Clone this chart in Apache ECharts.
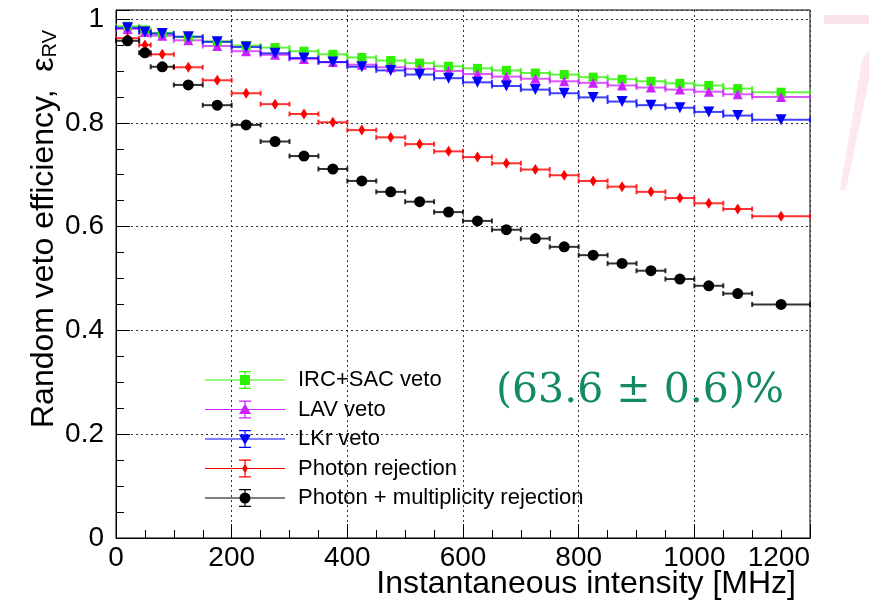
<!DOCTYPE html>
<html>
<head>
<meta charset="utf-8">
<script src="https://cdn.jsdelivr.net/npm/echarts@6/dist/echarts.min.js"></script>
<style>
  html, body { margin: 0; padding: 0; background: #fff; }
  #chart { width: 869px; height: 602px; }
</style>
</head>
<body>
<div id="chart"></div>
<script>
// intensity bins [MHz], markers sit at the bin centre
const binLo = [0, 40, 60, 100, 150, 200, 250, 300, 350, 400, 450, 500, 550, 600, 650, 700, 750, 800, 850, 900, 950, 1000, 1050, 1100];
const binHi = [40, 60, 100, 150, 200, 250, 300, 350, 400, 450, 500, 550, 600, 650, 700, 750, 800, 850, 900, 950, 1000, 1050, 1100, 1200];

// random veto efficiency per bin
const ircSac = [0.986, 0.979, 0.973, 0.965, 0.957, 0.949, 0.945, 0.938, 0.932, 0.926, 0.920, 0.915, 0.909, 0.905, 0.901, 0.896, 0.893, 0.888, 0.884, 0.880, 0.876, 0.872, 0.866, 0.859];
const lav = [0.981, 0.975, 0.968, 0.959, 0.948, 0.938, 0.931, 0.923, 0.917, 0.912, 0.907, 0.904, 0.900, 0.894, 0.889, 0.885, 0.880, 0.877, 0.872, 0.868, 0.864, 0.860, 0.855, 0.850];
const lkr = [0.983, 0.975, 0.972, 0.966, 0.956, 0.946, 0.934, 0.925, 0.917, 0.908, 0.901, 0.893, 0.886, 0.878, 0.871, 0.864, 0.857, 0.849, 0.841, 0.834, 0.829, 0.821, 0.814, 0.806];
const photon = [0.963, 0.950, 0.932, 0.907, 0.882, 0.857, 0.836, 0.817, 0.801, 0.786, 0.772, 0.759, 0.745, 0.734, 0.722, 0.710, 0.699, 0.688, 0.677, 0.667, 0.655, 0.645, 0.634, 0.620];
const photonMult = [0.958, 0.935, 0.908, 0.873, 0.834, 0.796, 0.764, 0.736, 0.711, 0.688, 0.667, 0.648, 0.628, 0.611, 0.594, 0.577, 0.561, 0.545, 0.529, 0.515, 0.499, 0.486, 0.471, 0.450];

const seriesNames = ["IRC+SAC veto", "LAV veto", "LKr veto", "Photon rejection", "Photon + multiplicity rejection"];
const resultLabel = "(63.6 \u00b1 0.6)%";

const FONT = "Liberation Sans, Arial, sans-serif";

// legend icon = ROOT style: horizontal line + vertical error bar with caps + marker
// all subpaths clockwise so the nonzero fill doesn't punch holes
const markerPaths = {
	square: "M35 4 H45 V14 H35 Z",
	triUp: "M40 3 L46 13.5 L34 13.5 Z",
	triDown: "M34 4.5 L46 4.5 L40 15 Z",
	diamond: "M40 4 L42.8 9 L40 14 L37.2 9 Z",
	circle: "M45.5 9 A5.5 5.5 0 1 1 34.5 9 A5.5 5.5 0 1 1 45.5 9 Z",
};
const legendIcon = (m) =>
	"path://M0 8.4 H80 V9.6 H0 Z M39.4 0 H40.6 V18 H39.4 Z M34 0 H46 V1.2 H34 Z M34 16.8 H46 V18 H34 Z " +
	markerPaths[m];

// horizontal error bars with small end caps
function errorBars(name, color, vals, opacity) {
	return {
		type: "custom",
		name: name + " err",
		silent: true,
		data: vals.map((v, i) => [binLo[i], binHi[i], v]),
		encode: { x: [0, 1], y: 2 },
		renderItem: (params, api) => {
			const a = api.coord([api.value(0), api.value(2)]);
			const b = api.coord([api.value(1), api.value(2)]);
			const cap = 2.5;
			const style = { stroke: color, lineWidth: 2, opacity: opacity };
			return {
				type: "group",
				children: [
					{ type: "line", shape: { x1: a[0], y1: a[1], x2: b[0], y2: b[1] }, style: style },
					{ type: "line", shape: { x1: a[0], y1: a[1] - cap, x2: a[0], y2: a[1] + cap }, style: style },
					{ type: "line", shape: { x1: b[0], y1: b[1] - cap, x2: b[0], y2: b[1] + cap }, style: style },
				],
			};
		},
	};
}

function markers(name, color, vals, symbol, size, rotate) {
	return {
		type: "scatter",
		name: name,
		data: vals.map((v, i) => [(binLo[i] + binHi[i]) / 2, v]),
		symbol: symbol,
		symbolSize: size,
		symbolRotate: rotate || 0,
		itemStyle: { color: color, opacity: 1 },
		emphasis: { disabled: true },
	};
}

const colors = ["#2ef000", "#cc22ff", "#0000ff", "#ff0000", "#000000"];

const chart = echarts.init(document.getElementById("chart"), null, { renderer: "canvas" });

chart.setOption({
	animation: false,
	backgroundColor: "#fff",
	grid: {
		left: 116,
		right: 59,
		top: 10,
		bottom: 64,
		show: true,
		borderColor: "#000",
		borderWidth: 1,
		backgroundColor: "transparent",
	},
	xAxis: {
		type: "value",
		min: 0,
		max: 1200,
		interval: 200,
		axisLine: { show: true, onZero: false, lineStyle: { color: "#000", width: 1 } },
		axisTick: { show: true, inside: true, length: 14, lineStyle: { color: "#000", width: 1 } },
		minorTick: { show: true, splitNumber: 4, length: 8, lineStyle: { color: "#000", width: 1 } },
		axisLabel: {
			color: "#000",
			fontSize: 28,
			fontFamily: FONT,
			margin: 6,
			alignMaxLabel: "right",
			formatter: (v) => String(v),
		},
		splitLine: { show: true, lineStyle: { color: "#333", type: [2, 3], width: 1 } },
	},
	yAxis: {
		type: "value",
		min: 0,
		max: 1.0174,
		interval: 0.2,
		axisLine: { show: true, onZero: false, lineStyle: { color: "#000", width: 1 } },
		axisTick: { show: true, inside: true, length: 14, lineStyle: { color: "#000", width: 1 } },
		minorTick: { show: true, splitNumber: 4, length: 8, lineStyle: { color: "#000", width: 1 } },
		axisLabel: {
			color: "#000",
			fontSize: 28,
			fontFamily: FONT,
			margin: 12,
			showMaxLabel: false,
			formatter: (v) => String(+v.toFixed(1)),
		},
		splitLine: { show: true, lineStyle: { color: "#333", type: [2, 3], width: 1 } },
	},
	legend: {
		orient: "vertical",
		left: 200,
		top: 364,
		itemWidth: 80,
		itemHeight: 18,
		itemGap: 7.5,
		selectedMode: false,
		symbolRotate: 0,
		textStyle: { color: "#000", fontSize: 22, fontFamily: FONT, padding: [0, 0, 0, 8] },
		data: [
			{ name: seriesNames[0], icon: legendIcon("square") },
			{ name: seriesNames[1], icon: legendIcon("triUp") },
			{ name: seriesNames[2], icon: legendIcon("triDown") },
			{ name: seriesNames[3], icon: legendIcon("diamond") },
			{ name: seriesNames[4], icon: legendIcon("circle") },
		],
	},
	series: [
		errorBars(seriesNames[0], colors[0], ircSac, 0.75),
		markers(seriesNames[0], colors[0], ircSac, "rect", 9),
		errorBars(seriesNames[1], colors[1], lav, 0.75),
		markers(seriesNames[1], colors[1], lav, "triangle", 10),
		errorBars(seriesNames[2], colors[2], lkr, 0.75),
		markers(seriesNames[2], colors[2], lkr, "triangle", 11, 180),
		errorBars(seriesNames[3], colors[3], photon, 0.8),
		markers(seriesNames[3], colors[3], photon, "diamond", [7, 11]),
		errorBars(seriesNames[4], colors[4], photonMult, 0.8),
		markers(seriesNames[4], colors[4], photonMult, "circle", 11),
	],
	graphic: [
		// axis titles, ROOT style: aligned to the end of the axis
		{
			type: "text",
			x: 796,
			y: 584,
			style: {
				text: "Instantaneous intensity [MHz]",
				fill: "#000",
				fontSize: 32,
				fontFamily: FONT,
				align: "right",
				verticalAlign: "middle",
			},
		},
		{
			type: "text",
			x: 44,
			y: 30,
			rotation: Math.PI / 2,
			style: {
				text: "{a|Random veto efficiency,  \u03b5}{sub|RV}",
				align: "right",
				verticalAlign: "middle",
				rich: {
					a: { fontSize: 32, fontFamily: FONT, fill: "#000", lineHeight: 32 },
					sub: { fontSize: 20, fontFamily: FONT, fill: "#000", verticalAlign: "bottom", lineHeight: 20, padding: [10, 0, 0, 0] },
				},
			},
		},
		// result annotation
		{
			type: "text",
			x: 496,
			y: 391,
			style: {
				text: resultLabel,
				fill: "#138a64",
				fontSize: 41,
				fontFamily: "DejaVu Serif, serif",
				align: "left",
				verticalAlign: "middle",
			},
		},
		// faint pink remnant at the right edge of the slide
		{
			type: "polygon",
			shape: { points: [[824, 15], [869, 15], [869, 24], [824, 24]] },
			style: { fill: "#fbe3ea" },
			silent: true,
		},
		{
			type: "polygon",
			shape: { points: [[862, 60], [869, 50], [869, 80], [846, 190], [840, 190]] },
			style: { fill: "#fce8ee" },
			silent: true,
		},
	],
});
</script>
</body>
</html>
